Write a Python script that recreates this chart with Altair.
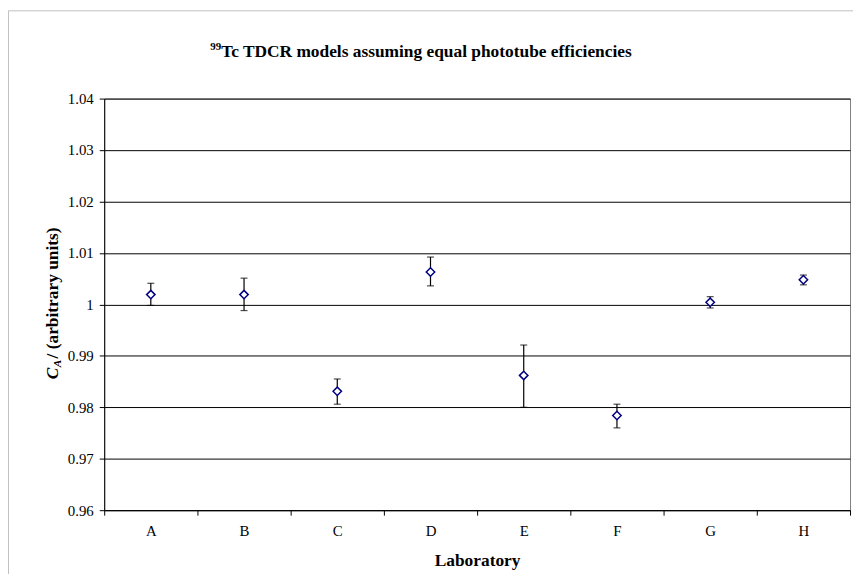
import altair as alt
import pandas as pd

labs = ["A", "B", "C", "D", "E", "F", "G", "H"]
vals = [1.0019, 1.0019, 0.9831, 1.0063, 0.9862, 0.9784, 1.0004, 1.0048]
lo = [0.9998, 0.9988, 0.9806, 1.0036, 0.9800, 0.9760, 0.9993, 1.0038]
hi = [1.0041, 1.0051, 0.9855, 1.0092, 0.9921, 0.9806, 1.0015, 1.0057]
y_ticks = [0.96, 0.97, 0.98, 0.99, 1.00, 1.01, 1.02, 1.03, 1.04]

title_sup = "99"
title_main = "Tc TDCR models assuming equal phototube efficiencies"
ytitle_c = "C"
ytitle_sub = "A"
ytitle_rest = "/ (arbitrary units)"
xtitle = "Laboratory"

df = pd.DataFrame({"lab": labs, "v": vals, "lo": lo, "hi": hi})

FONT = "Liberation Serif"
W, H = 752, 415

x = alt.X(
    "lab:N",
    sort=labs,
    scale=alt.Scale(type="band", paddingInner=0, paddingOuter=0),
    axis=alt.Axis(
        title=xtitle, labelAngle=0, tickBand="extent", tickSize=5,
        labelPadding=9, titleY=56, titleBaseline="alphabetic", grid=False,
    ),
)
yscale = alt.Scale(domain=[0.96, 1.04], nice=False, zero=False)
yaxis = alt.Axis(title=None, values=y_ticks, format=".3~g", tickSize=5,
                 labelPadding=6, grid=True, gridColor="black", gridWidth=1)

base = alt.Chart(df)

stems = base.mark_rule(color="black", strokeWidth=1.2).encode(
    x=x, y=alt.Y("lo:Q", scale=yscale, axis=yaxis), y2="hi:Q"
)
cap_lo = base.mark_tick(color="black", thickness=1.2, size=7).encode(
    x=x, y=alt.Y("lo:Q", scale=yscale, axis=yaxis)
)
cap_hi = base.mark_tick(color="black", thickness=1.2, size=7).encode(
    x=x, y=alt.Y("hi:Q", scale=yscale, axis=yaxis)
)
pts = base.mark_point(shape="diamond", filled=False, fill="white", fillOpacity=1,
                      stroke="#000080", strokeWidth=1.5, size=72, opacity=1).encode(
    x=x, y=alt.Y("v:Q", scale=yscale, axis=yaxis)
)

one = pd.DataFrame({"k": [0]})

border = alt.Chart(one).mark_rect(fillOpacity=0, stroke="#c0c0c0", strokeWidth=1).encode(
    x=alt.value(-96.5), x2=alt.value(W + 20), y=alt.value(-88.5), y2=alt.value(H + 80)
)

t_sup = alt.Chart(one).mark_text(
    text=title_sup, font=FONT, fontSize=11, fontWeight="bold", align="right",
    baseline="alphabetic", color="black"
).encode(x=alt.value(118), y=alt.value(-49))
t_main = alt.Chart(one).mark_text(
    text=title_main, font=FONT, fontSize=17.5, fontWeight="bold", align="left",
    baseline="alphabetic", color="black"
).encode(x=alt.value(118), y=alt.value(-42))

yc = alt.Chart(one).mark_text(
    text=ytitle_c, font=FONT, fontSize=17.5, fontWeight="bold", fontStyle="italic",
    align="left", baseline="alphabetic", angle=270, color="black"
).encode(x=alt.value(-47), y=alt.value(283))
ya = alt.Chart(one).mark_text(
    text=ytitle_sub, font=FONT, fontSize=11.5, fontWeight="bold", fontStyle="italic",
    align="left", baseline="alphabetic", angle=270, color="black"
).encode(x=alt.value(-44), y=alt.value(271))
yr = alt.Chart(one).mark_text(
    text=ytitle_rest, font=FONT, fontSize=17.5, fontWeight="bold",
    align="left", baseline="alphabetic", angle=270, color="black"
).encode(x=alt.value(-47), y=alt.value(262))

chart = alt.layer(border, stems, cap_lo, cap_hi, pts, t_sup, t_main, yc, ya, yr).properties(
    width=W, height=H,
    autosize=alt.AutoSizeParams(type="none"),
    padding={"left": 97, "top": 89, "right": 3, "bottom": 62},
    background="white",
).configure_axis(
    labelFont=FONT, labelFontSize=15, labelColor="black",
    titleFont=FONT, titleFontSize=17.5, titleFontWeight="bold", titleColor="black",
    domainColor="black", tickColor="black", domainWidth=1, tickWidth=1,
).configure_view(stroke="#808080", strokeWidth=1)

chart.save("out.html", embed_options={"renderer": "svg", "actions": False})
